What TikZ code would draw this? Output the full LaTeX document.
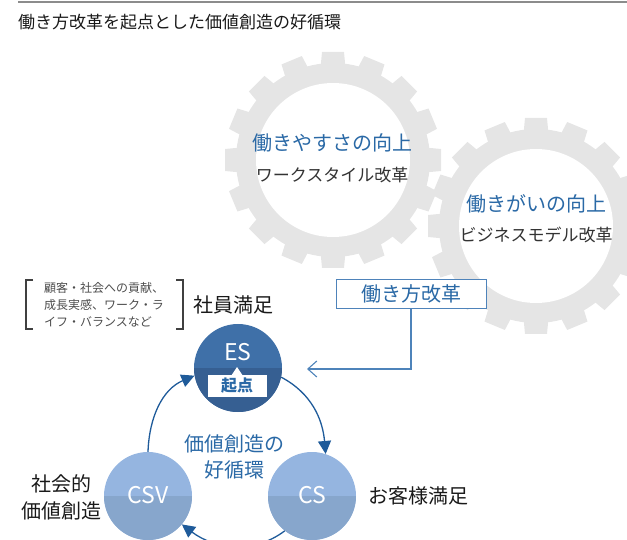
\documentclass[tikz,border=0pt]{standalone}
\usepackage{fontspec}
\setmainfont{Noto Sans CJK JP}
\usetikzlibrary{arrows.meta,calc}
\definecolor{gearg}{HTML}{E5E5E5}
\definecolor{blueone}{HTML}{2A69A6}
\definecolor{esTop}{HTML}{3F70A8}
\definecolor{esBot}{HTML}{365F92}
\definecolor{csTop}{HTML}{95B5E0}
\definecolor{csBot}{HTML}{87A6CC}
\definecolor{arrowblue}{HTML}{1F5B9A}
\definecolor{linkblue}{HTML}{4E83BA}
\definecolor{txtgray}{HTML}{333333}
\newcommand\fs[2]{\fontsize{#1}{#2}\selectfont}
\newcommand\geargray[2]{%
  \fill[gearg] (#1,#2) circle[radius=97pt];
  \foreach \a in {0,22.5,...,337.5}{%
    \fill[gearg, rotate around={\a:(#1,#2)}] ({#1+92},{#2-12.5}) -- ({#1+108},{#2-11}) -- ({#1+108},{#2+11}) -- ({#1+92},{#2+12.5}) -- cycle;}%
}
\begin{document}
\begin{tikzpicture}[x=1pt,y=-1pt,
  bigcirc/.style={circle, minimum size=88pt, inner sep=0pt},
  circtext/.style={text=white, font=\fs{23}{26}},
  cyc/.style={draw=arrowblue, line width=1.3pt, -{Triangle[length=13pt,width=13pt]}},
  bluelabel/.style={text=blueone, font=\fs{20}{26}},
  sublabel/.style={text=txtgray, font=\fs{17}{20}},
  blacklabel/.style={text=black!90, font=\fs{20}{27}, align=center},
]
\useasboundingbox (0,0) rectangle (627,540);
\clip (0,0) rectangle (627,540);
% top rule and title
\draw[gray!90, line width=2pt] (18,2) -- (627,2);
\node[anchor=west, text=black!90, font=\fs{17}{20}, inner sep=0pt] (title) at (18,22) {働き方改革を起点とした価値創造の好循環};
% gears
\geargray{333}{160}
\geargray{536}{226}
\fill[white] (333,160) circle[radius=77pt];
\fill[white] (536,226) circle[radius=77pt];
\node[bluelabel] (g1a) at (332,143) {働きやすさの向上};
\node[sublabel] (g1b) at (332,175) {ワークスタイル改革};
\node[bluelabel] (g2a) at (536,204) {働きがいの向上};
\node[sublabel] (g2b) at (536,235) {ビジネスモデル改革};
% work style reform box
\node[draw=linkblue, line width=1pt, fill=white, text=blueone, font=\fs{20}{24}, minimum width=150pt, minimum height=29pt, inner sep=0pt] (kaikaku) at (411,294) {働き方改革};
\coordinate (linkend) at (307,369);
\draw[linkblue, line width=1.1pt, -{Straight Barb[length=9pt,width=16pt]}] (kaikaku.south) |- (linkend);
% note with brackets
\node[anchor=west, align=left, text=black!70, font=\fs{12}{17}, inner sep=0pt] (note) at (44,305) {顧客・社会への貢献、\\成長実感、ワーク・ラ\\イフ・バランスなど};
\draw[black!75, line width=1.1pt] (33,280) -- (26,280) -- (26,329) -- (33,329);
\draw[black!75, line width=1.1pt] (176,280) -- (183,280) -- (183,329) -- (176,329);
% circles
\node[bigcirc, fill=esTop, path picture={\fill[esBot] (path picture bounding box.west) rectangle (path picture bounding box.south east);}] (es) at (238,368) {};
\node[bigcirc, fill=csTop, path picture={\fill[csBot] (path picture bounding box.west) rectangle (path picture bounding box.south east);}] (cs) at (312,496) {};
\node[bigcirc, fill=csTop, path picture={\fill[csBot] (path picture bounding box.west) rectangle (path picture bounding box.south east);}] (csv) at (148,496) {};
\node[circtext] (estxt) at (238,352) {ES};
\node[circtext] (cstxt) at (312,495) {CS};
\node[circtext] (csvtxt) at (148,495) {CSV};
% start badge
\fill[white] (231,376) -- (237,367) -- (243,376) -- cycle;
\node[fill=white, minimum width=59pt, minimum height=22pt, inner sep=0pt, text=blueone, font=\bfseries\fs{16}{18}] (kiten) at (237,386) {起点};
% cycle arrows
\draw[cyc] (es.-12) to[out=-28, in=95] (cs.72);
\draw[cyc] (cs.-128) to[out=-143, in=-37] (csv.-40);
\draw[cyc] (csv.90) to[out=88, in=-157] (es.190);
% labels
\node[blacklabel] (esl) at (233,305) {社員満足};
\node[blacklabel, anchor=west] (csl) at (365,496) {お客様満足};
\node[blacklabel] (csvl) at (61,497) {社会的\\価値創造};
\node[bluelabel, align=center, font=\fs{20}{26}] (center) at (234,457) {価値創造の\\好循環};
\end{tikzpicture}
\end{document}
